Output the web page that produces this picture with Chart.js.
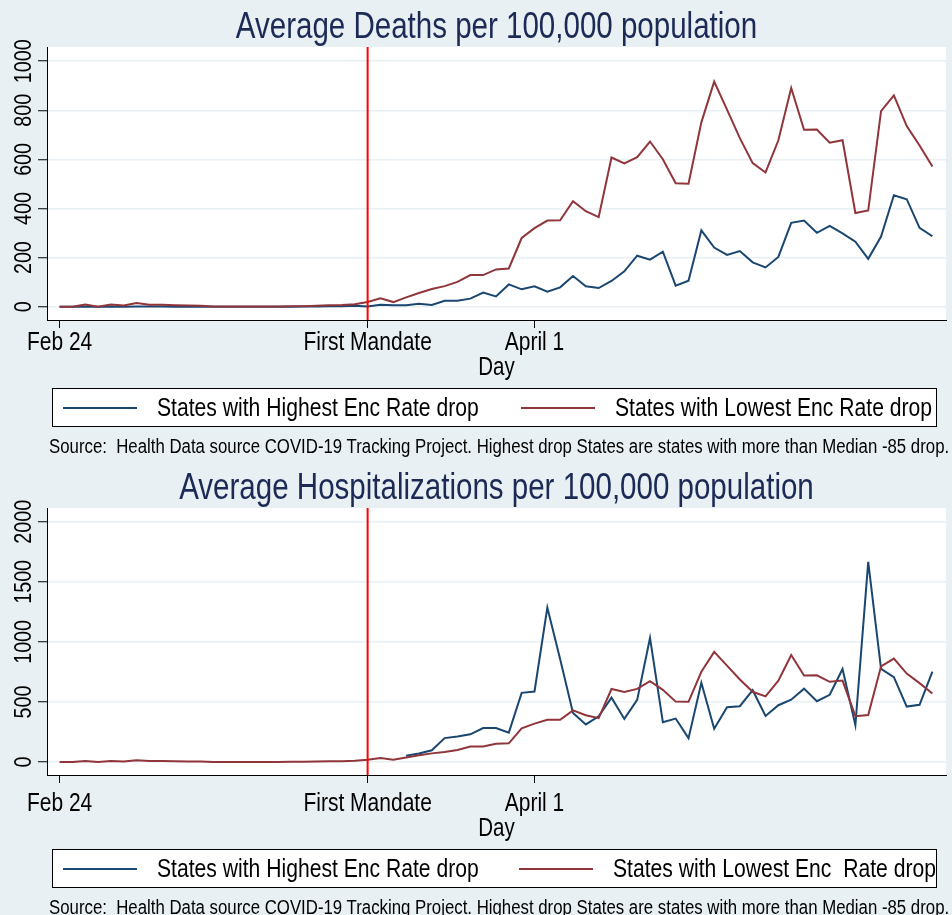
<!DOCTYPE html>
<html>
<head>
<meta charset="utf-8">
<script src="https://cdn.jsdelivr.net/npm/chart.js@4"></script>
<style>
  body { margin: 0; background: #e9f0f3; }
  #page { position: relative; width: 952px; height: 915px; background: #e9f0f3; font-family: "Liberation Sans", Arial, sans-serif; color: #000; }
  .panel { position: absolute; left: 0; width: 952px; height: 454px; }
  .panel canvas { position: absolute; left: 0; top: 0; }
  .title { position: absolute; left: 0; width: 993px; text-align: center; font-size: 36px; line-height: 36px; top: 8px; color: #1c2a55; white-space: nowrap; transform: scaleX(0.82); }
  .xtitle { position: absolute; left: 0; width: 993px; text-align: center; font-size: 25px; line-height: 25px; top: 354px; transform: scaleX(0.82); }
  .legend { position: absolute; left: 52px; top: 388px; width: 885px; height: 39px; border: 1px solid #000; background: #fff; box-sizing: border-box; }
  .legend .ln { position: absolute; top: 18px; width: 74px; height: 2px; }
  .legend .lt { position: absolute; top: 6px; font-size: 25px; line-height: 25px; white-space: pre; transform: scaleX(0.845); transform-origin: 0 50%; }
  .note { position: absolute; left: 49px; top: 436px; font-size: 20px; line-height: 20px; white-space: pre; transform: scaleX(0.84); transform-origin: 0 50%; }
</style>
</head>
<body>
<div id="page">
  <div class="panel" style="top:0">
    <canvas id="deaths" width="952" height="460"></canvas>
    <div class="title">Average Deaths per 100,000 population</div>
    <div class="xtitle">Day</div>
    <div class="legend">
      <div class="ln" style="left:10px;background:#1a476f"></div>
      <div class="lt" style="left:104px">States with Highest Enc Rate drop</div>
      <div class="ln" style="left:468px;background:#90353b"></div>
      <div class="lt" style="left:562px">States with Lowest Enc Rate drop</div>
    </div>
    <div class="note">Source:  Health Data source COVID-19 Tracking Project. Highest drop States are states with more than Median -85 drop.</div>
  </div>
  <div class="panel" style="top:461px">
    <canvas id="hosp" width="952" height="454"></canvas>
    <div class="title">Average Hospitalizations per 100,000 population</div>
    <div class="xtitle">Day</div>
    <div class="legend">
      <div class="ln" style="left:10px;background:#1a476f"></div>
      <div class="lt" style="left:104px">States with Highest Enc Rate drop</div>
      <div class="ln" style="left:466px;background:#90353b"></div>
      <div class="lt" style="left:560px">States with Lowest Enc  Rate drop</div>
    </div>
    <div class="note">Source:  Health Data source COVID-19 Tracking Project. Highest drop States are states with more than Median -85 drop.</div>
  </div>
</div>
<script>
// days since Feb 24
const days = Array.from({ length: 69 }, (_, i) => i);
const tickDays = [0, 24, 37];
const tickLabels = ["Feb 24", "First Mandate", "April 1"];
const mandateDay = 24;

const deathTicks = [0, 200, 400, 600, 800, 1000];
const hospTicks = [0, 500, 1000, 1500, 2000];

const deathsHigh = [
  0, 0, 1, 0, 1, 0, 1, 1, 1, 0, 0, 0, 0, 0, 0, 0, 0, 0, 0, 1, 1, 2, 2, 4,
  1, 8, 6, 6, 12, 7, 24, 24, 33, 58, 42, 91, 71, 83, 61, 79, 125, 83, 76, 105,
  144, 208, 192, 224, 86, 106, 311, 241, 211, 227, 181, 160, 203, 342, 351, 301,
  329, 299, 265, 195, 286, 454, 438, 321, 287
];
const deathsLow = [
  0, 0, 9, 0, 9, 5, 15, 8, 8, 6, 5, 4, 1, 1, 1, 1, 1, 1, 2, 2, 4, 6, 7, 10,
  19, 34, 19, 38, 56, 72, 84, 101, 129, 129, 152, 156, 280, 320, 351, 352, 430, 389, 365, 608,
  584, 609, 673, 601, 503, 501, 751, 917, 803, 687, 585, 547, 678, 891, 721, 722,
  668, 678, 382, 392, 797, 861, 736, 657, 571
];
const hospHigh = [
  null, null, null, null, null, null, null, null, null, null, null, null, null, null,
  null, null, null, null, null, null, null, null, null, null, null, null, null,
  52, 71, 98, 199, 212, 231, 283, 283, 245, 576, 587, 1286, 856, 408, 313, 381,
  536, 359, 517, 1033, 332, 362, 199, 660, 277, 457, 465, 598, 383, 473, 519,
  611, 506, 560, 775, 307, 1666, 775, 707, 462, 476, 753
];
const hospLow = [
  0, 0, 9, 0, 9, 5, 15, 8, 8, 6, 5, 4, 1, 1, 1, 1, 1, 1, 2, 2, 4, 6, 7, 10,
  19, 34, 19, 38, 56, 72, 84, 101, 129, 129, 152, 156, 280, 320, 351, 352, 430, 389, 365, 608,
  584, 609, 673, 601, 503, 501, 751, 917, 803, 687, 585, 547, 678, 891, 721, 722,
  668, 678, 382, 392, 797, 861, 736, 657, 571
];

const FONT = '"Liberation Sans", Arial, sans-serif';

// Stata-like narrow text: squeeze along the reading direction
function narrowText(ctx, text, x, y, size, squeeze, angle) {
  ctx.save();
  ctx.translate(x, y);
  ctx.rotate(angle);
  ctx.scale(squeeze, 1);
  ctx.font = size + "px " + FONT;
  ctx.fillStyle = "#000";
  ctx.textAlign = "center";
  ctx.textBaseline = "alphabetic";
  ctx.fillText(text, 0, 0);
  ctx.restore();
}

// white plot region, red mandate line, axis labels
const panelPlugin = {
  id: "panel",
  beforeDraw(chart) {
    const a = chart.chartArea;
    const ctx = chart.ctx;
    ctx.save();
    ctx.fillStyle = "#e9f0f3";
    ctx.fillRect(0, 0, chart.width, chart.height);
    ctx.fillStyle = "#ffffff";
    ctx.fillRect(a.left, a.top, a.right - a.left, a.bottom - a.top);
    ctx.restore();
  },
  afterDatasetsDraw(chart) {
    const a = chart.chartArea;
    const ctx = chart.ctx;
    const x = chart.scales.x.getPixelForValue(mandateDay);
    ctx.save();
    ctx.strokeStyle = "#ff0000";
    ctx.lineWidth = 2;
    ctx.beginPath();
    ctx.moveTo(x, a.top);
    ctx.lineTo(x, a.bottom);
    ctx.stroke();
    ctx.restore();
  },
  afterDraw(chart) {
    const ctx = chart.ctx;
    const y = chart.scales.y;
    y.ticks.forEach((t) => {
      narrowText(ctx, String(t.value), 31, y.getPixelForValue(t.value), 24, 0.82, -Math.PI / 2);
    });
    const x = chart.scales.x;
    x.ticks.forEach((t) => {
      narrowText(ctx, tickLabels[tickDays.indexOf(t.value)], x.getPixelForValue(t.value), 350, 25, 0.84, 0);
    });
  }
};

function makeChart(id, high, low, yMin, yMax, yTicks) {
  const ctx = document.getElementById(id).getContext("2d");
  return new Chart(ctx, {
    type: "line",
    data: {
      datasets: [
        {
          label: "States with Highest Enc Rate drop",
          data: days.map((d, i) => ({ x: d, y: high[i] })),
          borderColor: "#1a476f",
          order: 1
        },
        {
          label: "States with Lowest Enc Rate drop",
          data: days.map((d, i) => ({ x: d, y: low[i] })),
          borderColor: "#90353b",
          order: 0
        }
      ]
    },
    options: {
      responsive: false,
      animation: false,
      layout: { padding: { left: 0, top: 47, right: 6, bottom: 110 } },
      elements: {
        point: { radius: 0 },
        line: { borderWidth: 2, tension: 0 }
      },
      plugins: {
        legend: { display: false },
        tooltip: { enabled: false }
      },
      scales: {
        x: {
          type: "linear",
          min: -0.98,
          max: 69.06,
          afterBuildTicks: (s) => { s.ticks = tickDays.map((v) => ({ value: v })); },
          afterFit: (s) => { s.height = 30; },
          grid: { drawOnChartArea: false, drawTicks: true, tickLength: 8, color: "#000", lineWidth: 1 },
          border: { display: true, color: "#000", width: 1 },
          ticks: { display: false }
        },
        y: {
          min: yMin,
          max: yMax,
          afterBuildTicks: (s) => { s.ticks = yTicks.map((v) => ({ value: v })); },
          afterFit: (s) => { s.width = 47; },
          ticks: { display: false },
          grid: { color: "#e9f0f3", lineWidth: 1.5, tickLength: 9, tickColor: "#000", tickWidth: 1 },
          border: { display: true, color: "#000", width: 1 }
        }
      }
    },
    plugins: [panelPlugin]
  });
}

makeChart("deaths", deathsHigh, deathsLow, -54, 1058, deathTicks);
makeChart("hosp", hospHigh, hospLow, -108, 2115, hospTicks);
</script>
</body>
</html>
